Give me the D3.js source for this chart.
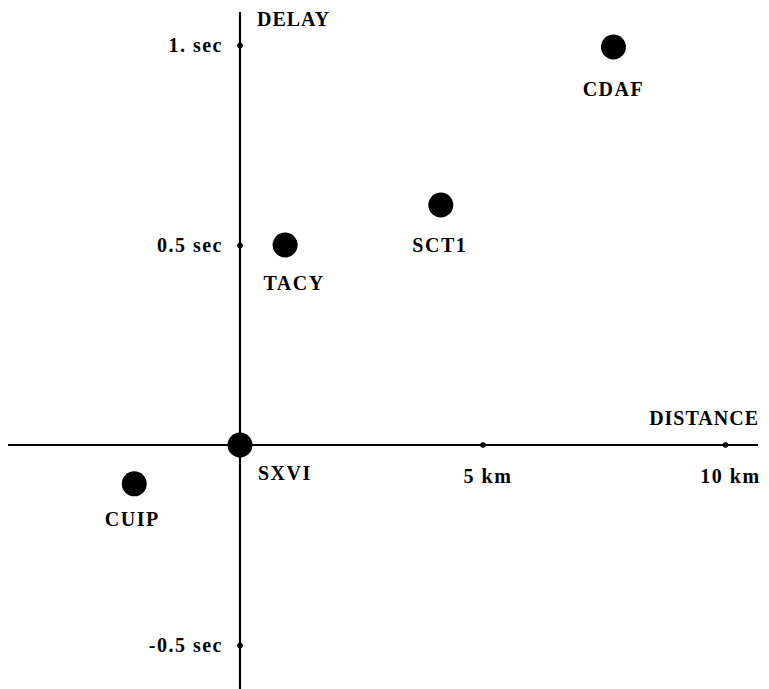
<!DOCTYPE html>
<html><head><meta charset="utf-8">
<script src="https://cdn.jsdelivr.net/npm/d3@7"></script>
<style>body{margin:0;background:#fff}svg{display:block}text{font-family:"Liberation Serif","DejaVu Serif",serif;font-weight:bold;fill:#000}</style>
</head><body>
<script>
const stations = ["CDAF","SCT1","TACY","SXVI","CUIP"];
const distanceKm = [7.7, 4.14, 0.93, 0, -2.18];
const delaySec = [0.995, 0.6, 0.5, 0, -0.097];
const xTickValues = [5, 10];
const xTickLabels = ["5 km", "10 km"];
const yTickValues = [1, 0.5, -0.5];
const yTickLabels = ["1. sec", "0.5 sec", "-0.5 sec"];

const W = 769, H = 689;
const svg = d3.select("body").append("svg").attr("width", W).attr("height", H);
const x = d3.scaleLinear().domain([0, 10]).range([240, 725]);
const y = d3.scaleLinear().domain([0, 1]).range([445, 45]);

// axes lines
svg.append("line").attr("x1", 8).attr("x2", 758).attr("y1", y(0)).attr("y2", y(0))
  .attr("stroke", "#000").attr("stroke-width", 2.2);
svg.append("line").attr("x1", x(0)).attr("x2", x(0)).attr("y1", 12).attr("y2", H)
  .attr("stroke", "#000").attr("stroke-width", 2.2);

const xAxis = d3.axisBottom(x).tickValues(xTickValues).tickSize(0)
  .tickFormat((d, i) => xTickLabels[i]);
const gx = svg.append("g").attr("transform", `translate(0,${y(0)})`).call(xAxis);
gx.attr("font-size", 20).attr("font-family", null);
gx.select(".domain").remove();
gx.selectAll("text").attr("dy", null).attr("y", 38).attr("dx", 5)
  .attr("letter-spacing", 1.5);
gx.selectAll(".tick").append("circle").attr("r", 2.8).attr("fill", "#000");

const yAxis = d3.axisLeft(y).tickValues(yTickValues).tickSize(0)
  .tickFormat((d, i) => yTickLabels[i]);
const gy = svg.append("g").attr("transform", `translate(${x(0)},0)`).call(yAxis);
gy.attr("font-size", 20).attr("font-family", null);
gy.select(".domain").remove();
gy.selectAll("text").attr("x", -17).attr("dy", "0.3em").attr("letter-spacing", 1.5);
gy.selectAll(".tick").append("circle").attr("r", 2.8).attr("fill", "#000");

// axis titles
svg.append("text").attr("x", 759).attr("y", 425).attr("text-anchor", "end")
  .attr("font-size", 20).attr("letter-spacing", 1).text("DISTANCE");
svg.append("text").attr("x", 257).attr("y", 26).attr("text-anchor", "start")
  .attr("font-size", 20).attr("letter-spacing", 1).text("DELAY");

// points
const data = stations.map((s, i) => ({name: s, d: distanceKm[i], t: delaySec[i]}));
const g = svg.append("g");
g.selectAll("circle").data(data).join("circle")
  .attr("cx", d => x(d.d)).attr("cy", d => y(d.t)).attr("r", 12.5).attr("fill", "#000");
const labelOffset = {CDAF:[0,49,"middle"], SCT1:[-1,47,"middle"], TACY:[9,45,"middle"], SXVI:[18,35,"start"], CUIP:[-2,42,"middle"]};
g.selectAll("text").data(data).join("text")
  .attr("x", d => x(d.d) + labelOffset[d.name][0])
  .attr("y", d => y(d.t) + labelOffset[d.name][1])
  .attr("text-anchor", d => labelOffset[d.name][2])
  .attr("letter-spacing", 1.5)
  .attr("font-size", 20).text(d => d.name);
</script>
</body></html>
